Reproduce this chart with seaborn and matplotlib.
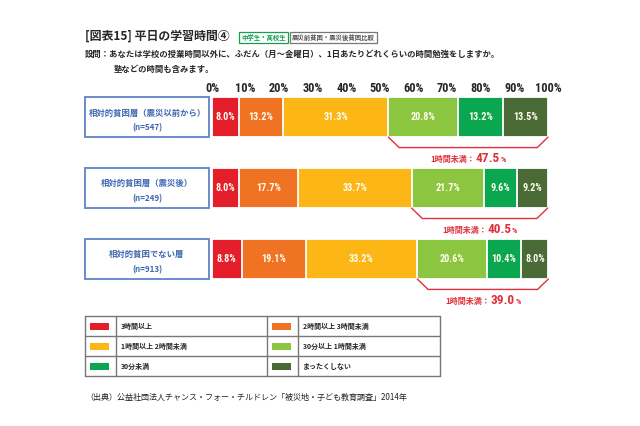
import matplotlib
matplotlib.use('Agg')
import matplotlib.pyplot as plt
from matplotlib.patches import Rectangle
from matplotlib.offsetbox import TextArea, HPacker, AnnotationBbox
import pandas as pd
import seaborn as sns

# data
groups = ['相対的貧困層（震災以前から）', '相対的貧困層（震災後）', '相対的貧困でない層']
group_n = [547, 249, 913]
categories = ['3時間以上', '2時間以上 3時間未満', '1時間以上 2時間未満',
              '30分以上 1時間未満', '30分未満', 'まったくしない']
share_before = [8.0, 13.2, 31.3, 20.8, 13.2, 13.5]
share_after = [8.0, 17.7, 33.7, 21.7, 9.6, 9.2]
share_not_poor = [8.8, 19.1, 33.2, 20.6, 10.4, 8.0]
under_1h = [47.5, 40.5, 39.0]
xticks = list(range(0, 101, 10))

palette = ['#E41E2B', '#F07324', '#FCB717', '#8CC540', '#0BA650', '#4A6A36']
BLUE_TXT = '#3C66B0'
BLUE_BOX = '#6A8CCB'
RED = '#E0303C'
NARROW = ['Roboto Condensed', 'DejaVu Sans Condensed', 'Liberation Sans Narrow',
          'DejaVu Sans']

sns.set_style('white')
plt.rcParams['font.family'] = ['Noto Sans CJK JP', 'DejaVu Sans']

W, H = 640, 426
def fx(px):
    return px / W
def fy(py):
    return 1 - py / H

# long table with stacked start/end
rows = []
for g, vals in zip(groups, [share_before, share_after, share_not_poor]):
    start = 0.0
    for c, v in zip(categories, vals):
        rows.append(dict(group=g, category=c, share=v, start=start, end=start + v))
        start += v
df = pd.DataFrame(rows)

fig = plt.figure(figsize=(6.4, 4.26), dpi=100)

# bar axes: x 0..100% -> px 212..548, bars from px 97 to 279
BAR_H = 0.566
ax = fig.add_axes([fx(212), fy(279), (548 - 212) / W, (279 - 97) / H])
for k in reversed(range(len(categories))):
    sub = df[df['category'] == categories[k]]
    sns.barplot(data=sub, x='end', y='group', order=groups, orient='h',
                color=palette[k], saturation=1, width=BAR_H, errorbar=None,
                edgecolor='white', linewidth=1.3, ax=ax)

ax.set_xlim(0, 100)
ax.set_ylim(len(groups) - 1 + BAR_H / 2, -BAR_H / 2)
ax.set_yticks([])
ax.set_xlabel('')
ax.set_ylabel('')
ax.xaxis.tick_top()
ax.set_xticks(xticks)
ax.set_xticklabels([f'{t}%' for t in xticks], family=NARROW, stretch='condensed',
                   fontweight='bold', fontsize=8.8)
ax.tick_params(axis='x', length=0, pad=1.5)
for s in ax.spines.values():
    s.set_visible(False)

# value labels inside segments
for _, r in df.iterrows():
    i = groups.index(r['group'])
    ax.text((r['start'] + r['end']) / 2, i, f"{r['share']:.1f}%",
            ha='center', va='center', color='#FFFDF0', fontsize=7.3,
            fontweight='bold', family=NARROW, stretch='condensed')

# group label boxes left of the bars
for i, (g, n) in enumerate(zip(groups, group_n)):
    ax.add_patch(Rectangle((-37.8, i - BAR_H / 2), 36.9, BAR_H, clip_on=False,
                           facecolor='white', edgecolor=BLUE_BOX, linewidth=1.4))
    ax.text(-19.35, i - 0.06, g, ha='center', va='center', color=BLUE_TXT,
            fontsize=6, fontweight='bold', clip_on=False)
    ax.text(-19.35, i + 0.15, f'(n={n})', ha='center', va='center',
            color=BLUE_TXT, fontsize=5.8, fontweight='bold', clip_on=False)

# brackets for "under 1 hour"
for i, g in enumerate(groups):
    sub = df[df['group'] == g]
    x0 = sub['start'].iloc[3]
    x1 = sub['end'].iloc[-1]
    yb = i + BAR_H / 2
    ax.plot([x0, x0 + 3.2, x1 - 3.2, x1], [yb, i + 0.43, i + 0.43, yb],
            color=RED, linewidth=1.0, clip_on=False, solid_joinstyle='miter')
    parts = [TextArea('1時間未満：', textprops=dict(color=RED, fontsize=5.8,
                                                  fontweight='bold')),
             TextArea(f'{under_1h[i]:.1f}', textprops=dict(color=RED, fontsize=9.5,
                                                        fontweight='bold', family=NARROW,
                                                        stretch='condensed')),
             TextArea('%', textprops=dict(color=RED, fontsize=6, fontweight='bold',
                                          family=NARROW, stretch='condensed'))]
    pack = HPacker(children=parts, align='baseline', pad=0, sep=0.5)
    ab = AnnotationBbox(pack, ((x0 + x1) / 2, i + 0.59), frameon=False,
                        box_alignment=(0.5, 0.5), annotation_clip=False)
    ax.add_artist(ab)

# title and question
fig.text(fx(85), fy(36), '[図表15] 平日の学習時間④', fontsize=8.6,
         fontweight='bold', va='center', ha='left')
fig.text(fx(241), fy(37.5), '中学生・高校生', fontsize=4.6, fontweight='bold',
         color='#12A04A', va='center', ha='left',
         bbox=dict(boxstyle='square,pad=0.35', fc='white', ec='#12A04A', lw=0.9))
fig.text(fx(292), fy(37.5), '震災前貧困・震災後貧困比較', fontsize=4.6,
         fontweight='bold', color='#555555', va='center', ha='left',
         bbox=dict(boxstyle='square,pad=0.35', fc='white', ec='#777777', lw=0.9))
fig.text(fx(85), fy(54), '設問：あなたは学校の授業時間以外に、ふだん（月～金曜日）、1日あたりどれくらいの時間勉強をしますか。',
         fontsize=6, fontweight='bold', va='center', ha='left')
fig.text(fx(114), fy(69), '塾などの時間も含みます。', fontsize=6,
         fontweight='bold', va='center', ha='left')

# legend table
lax = fig.add_axes([fx(85), fy(376), (440 - 85) / W, (376 - 316) / H])
lax.set_xlim(0, 355)
lax.set_ylim(60, 0)
lax.axis('off')
grid_kw = dict(color='#777777', linewidth=1.0, clip_on=False)
for yy in [0, 20, 40, 60]:
    lax.plot([0, 355], [yy, yy], **grid_kw)
for xx in [0, 31, 182, 213, 355]:
    lax.plot([xx, xx], [0, 60], **grid_kw)
for k, (c, col) in enumerate(zip(categories, palette)):
    row, colno = k // 2, k % 2
    x_off = 0 if colno == 0 else 182
    yc = row * 20 + 10
    lax.add_patch(Rectangle((x_off + 5, yc - 3.5), 19, 7, facecolor=col,
                            edgecolor='none'))
    lax.text(x_off + 36, yc, c, fontsize=5, fontweight='bold',
             va='center', ha='left')

fig.text(fx(85), fy(397), '（出典）公益社団法人チャンス・フォー・チルドレン「被災地・子ども教育調査」2014年',
         fontsize=5.8, va='center', ha='left', color='#222222')

fig.savefig('out.png', dpi=100)
